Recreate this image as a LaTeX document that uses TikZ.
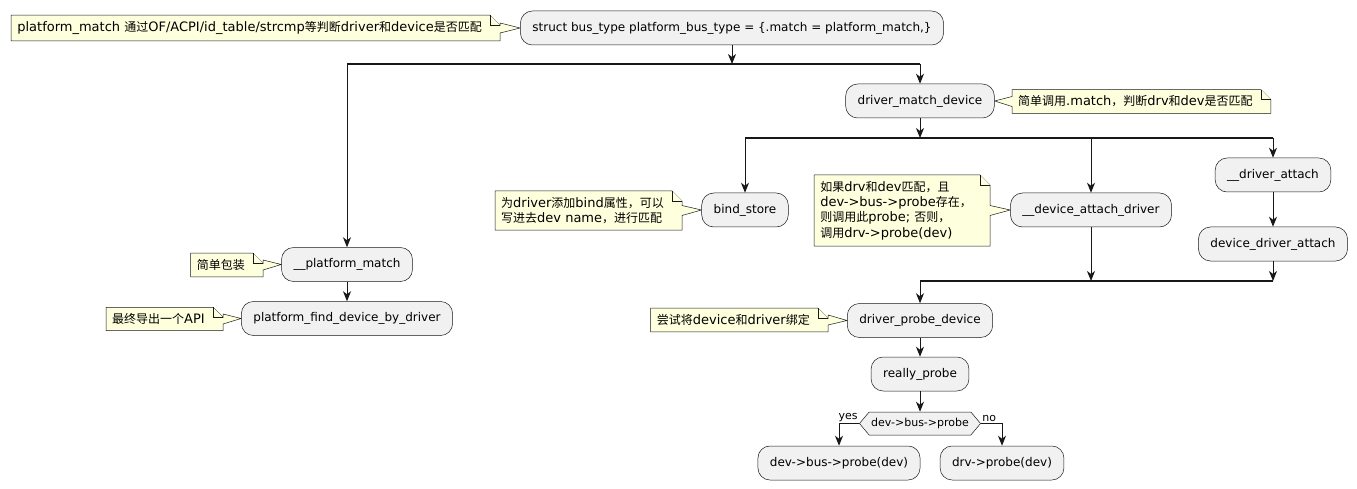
\documentclass[tikz,border=0pt]{standalone}
\usepackage{fontspec}
\setmainfont{DejaVu Sans}
\newfontfamily\cjk{Noto Sans CJK SC}[Scale=0.923]
\usetikzlibrary{positioning}
\usetikzlibrary{arrows.meta}
\usetikzlibrary{calc}
\usetikzlibrary{backgrounds}
\usetikzlibrary{shapes.symbols}

\definecolor{actfill}{HTML}{F1F1F1}
\definecolor{ink}{HTML}{181818}
\definecolor{notefill}{HTML}{FEFFDD}

\tikzset{
  act/.style={draw=ink,line width=0.5pt,fill=actfill,rounded corners=12pt,minimum height=34pt,inner xsep=12pt,font=\fontsize{12}{14}\selectfont},
  notetext/.style={inner xsep=6pt,inner ysep=6pt,align=left,font=\fontsize{13}{15.3}\selectfont},
  noteline/.style={draw=ink,line width=0.5pt,fill=notefill},
  flow/.style={draw=ink,line width=1pt,-{Stealth[length=10pt,width=8pt,inset=3pt]}},
  forkbar/.style={draw=ink,line width=1.6pt},
  check/.style={draw=ink,line width=0.5pt,fill=actfill,shape=signal,signal to=west and east,signal pointer angle=100,minimum height=23pt,inner xsep=2pt,font=\fontsize{11}{13}\selectfont},
  yesno/.style={inner sep=1pt,font=\fontsize{11}{13}\selectfont},
}

% note pointing right to #2
\newcommand{\noteR}[2]{
\begin{pgfonlayer}{background}
\draw[noteline] (#1.north west) -- ($(#1.north east)+(2,0)$) -- ($(#1.north east)+(12,10)$) -- ($(#1.east)+(12,-5)$) -- (#2.west) -- ($(#1.east)+(12,5)$) -- ($(#1.south east)+(12,0)$) -- (#1.south west) -- cycle;
\draw[noteline] ($(#1.north east)+(2,0)$) -- ($(#1.north east)+(2,10)$) -- ($(#1.north east)+(12,10)$);
\end{pgfonlayer}}
% note pointing left to #2
\newcommand{\noteL}[2]{
\begin{pgfonlayer}{background}
\draw[noteline] (#1.north west) -- ($(#1.north east)+(2,0)$) -- ($(#1.north east)+(12,10)$) -- ($(#1.south east)+(12,0)$) -- (#1.south west) -- ($(#1.west)+(0,5)$) -- (#2.east) -- ($(#1.west)+(0,-5)$) -- cycle;
\draw[noteline] ($(#1.north east)+(2,0)$) -- ($(#1.north east)+(2,10)$) -- ($(#1.north east)+(12,10)$);
\end{pgfonlayer}}

\begin{document}
\begin{tikzpicture}[x=1pt,y=-1pt]
\useasboundingbox (0,0) rectangle (1357,489);

\node[act] (bustype) at (732,28) {struct bus\_type platform\_bus\_type = \{.match = platform\_match,\}};
\node[notetext,anchor=east] (n1) at (488,28) {platform\_match {\cjk 通过}OF/ACPI/id\_table/strcmp{\cjk 等判断}driver{\cjk 和}device{\cjk 是否匹配}};
\noteR{n1}{bustype}

\coordinate (b1l) at (347,64);
\coordinate (b1r) at (920,64);
\draw[forkbar] (b1l) -- (b1r);
\draw[flow] (bustype.south) -- (bustype.south |- b1l);

% left branch
\node[act] (pmatch) at (347,264.5) {\_\_platform\_match};
\node[act] (pfind) at (347,318.5) {platform\_find\_device\_by\_driver};
\node[notetext,anchor=east] (n5) at (251,265) {{\cjk 简单包装}};
\node[notetext,anchor=east] (n6) at (211,319) {{\cjk 最终导出一个}API};
\noteR{n5}{pmatch}
\noteR{n6}{pfind}
\draw[flow] (b1l) -- (pmatch.north);
\draw[flow] (pmatch.south) -- (pfind.north);

% right branch
\node[act] (dmd) at (920,101) {driver\_match\_device};
\node[notetext,anchor=west] (n2) at (1012,101.5) {{\cjk 简单调用}.match{\cjk ，判断}drv{\cjk 和}dev{\cjk 是否匹配}};
\noteL{n2}{dmd}
\draw[flow] (b1r) -- (dmd.north);

\coordinate (b2l) at (745,138);
\coordinate (b2r) at (1273,138);
\draw[forkbar] (b2l) -- (b2r);
\draw[flow] (dmd.south) -- (dmd.south |- b2l);

\node[act] (bind) at (745,210) {bind\_store};
\node[notetext,anchor=east] (n3) at (670,210.5) {{\cjk 为}driver{\cjk 添加}bind{\cjk 属性，可以}\\{\cjk 写进去}dev name{\cjk ，进行匹配}};
\noteR{n3}{bind}

\node[act] (dad) at (1091,210) {\_\_device\_attach\_driver};
\node[notetext,anchor=east] (n4) at (978,210.5) {{\cjk 如果}drv{\cjk 和}dev{\cjk 匹配，且}\\dev->bus->probe{\cjk 存在，}\\{\cjk 则调用此}probe; {\cjk 否则，}\\{\cjk 调用}drv->probe(dev)};
\noteR{n4}{dad}

\node[act] (dattach) at (1273,175) {\_\_driver\_attach};
\node[act] (dda) at (1273,244) {device\_driver\_attach};

\draw[flow] (b2l) -- (bind.north);
\draw[flow] (dad.north |- b2l) -- (dad.north);
\draw[flow] (b2r) -- (dattach.north);
\draw[flow] (dattach.south) -- (dda.north);

\coordinate (b3l) at (920,281);
\coordinate (b3r) at (1273,281);
\draw[forkbar] (b3l) -- (b3r);
\draw[flow] (dad.south) -- (dad.south |- b3l);
\draw[flow] (dda.south) -- (dda.south |- b3r);

\node[act] (dpd) at (920,320.5) {driver\_probe\_device};
\node[notetext,anchor=east] (n7) at (816,320) {{\cjk 尝试将}device{\cjk 和}driver{\cjk 绑定}};
\noteR{n7}{dpd}
\draw[flow] (b3l) -- (dpd.north);

\node[act] (rprobe) at (920,374) {really\_probe};
\node[check] (chk) at (920,423.5) {dev->bus->probe};
\node[act] (busprobe) at (839,463) {dev->bus->probe(dev)};
\node[act] (drvprobe) at (1002,463) {drv->probe(dev)};
\draw[flow] (dpd.south) -- (rprobe.north);
\draw[flow] (rprobe.south) -- (chk.north);
\draw[flow] (chk.west) -| node[yesno,pos=0,anchor=south east] {yes} (busprobe.north);
\draw[flow] (chk.east) -| node[yesno,pos=0,anchor=south west] {no} (drvprobe.north);

\end{tikzpicture}
\end{document}
